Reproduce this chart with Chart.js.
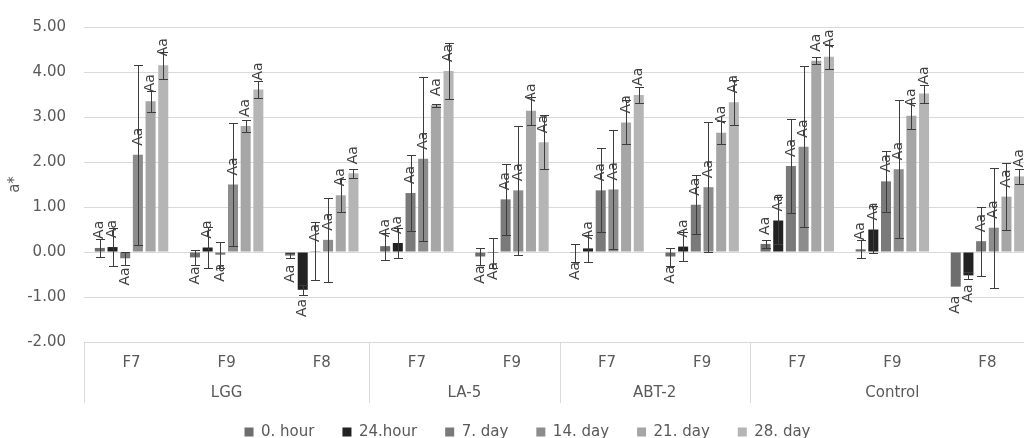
<!DOCTYPE html>
<html><head><meta charset="utf-8">
<script src="https://cdn.jsdelivr.net/npm/chart.js@4.4.1/dist/chart.umd.min.js"></script>
<style>
html,body{margin:0;padding:0;overflow:hidden;background:#fff;width:1024px;height:438px}
#wrap{position:absolute;left:0;top:0;width:1040px;height:438px}
</style>
</head><body><div id="wrap"><canvas id="c" width="1040" height="438"></canvas></div>
<script>
const categories = ['F7','F9','F8','F7','F9','F7','F9','F7','F9','F8'];
const groupNames = ['LGG','LA-5','ABT-2','Control'];
const groupSizes = [3,2,2,3];
const seriesNames = ['0. hour','24.hour','7. day','14. day','21. day','28. day'];
const yAxisTitle = 'a*';
const pointLabel = 'Aa';

const hour0    = [0.09,-0.12,-0.08,0.13,-0.10,-0.02,-0.10,0.18,0.06,-0.77];
const hour0Err = [0.20,0.17,0.05,0.30,0.18,0.20,0.20,0.08,0.20,0.00];
const hour24    = [0.11,0.10,-0.84,0.20,-0.02,0.08,0.12,0.70,0.50,-0.52];
const hour24Err = [0.43,0.45,0.11,0.33,0.33,0.30,0.32,0.52,0.52,0.08];
const day7    = [-0.14,-0.06,0.02,1.31,1.17,1.37,1.05,1.91,1.57,0.24];
const day7Err = [0.15,0.29,0.64,0.84,0.79,0.93,0.66,1.05,0.67,0.77];
const day14    = [2.16,1.50,0.27,2.07,1.37,1.39,1.44,2.34,1.84,0.54];
const day14Err = [2.00,1.37,0.94,1.83,1.43,1.32,1.45,1.79,1.53,1.33];
const day21    = [3.35,2.80,1.26,3.26,3.14,2.88,2.65,4.25,3.03,1.23];
const day21Err = [0.23,0.13,0.37,0.03,0.31,0.49,0.25,0.08,0.29,0.75];
const day28    = [4.15,3.61,1.75,4.02,2.44,3.49,3.33,4.34,3.52,1.68];
const day28Err = [0.30,0.19,0.10,0.62,0.60,0.18,0.50,0.27,0.20,0.17];

const yMin = -2, yMax = 5, yStep = 1;

const seriesValues = [hour0,hour24,day7,day14,day21,day28];
const seriesErrors = [hour0Err,hour24Err,day7Err,day14Err,day21Err,day28Err];
const seriesColors = ['#6e6e6e','#222222','#7a7a7a','#8c8c8c','#a6a6a6','#b5b5b5'];

Chart.defaults.font.family = "'DejaVu Sans', sans-serif";
Chart.defaults.font.size = 15;
Chart.defaults.color = '#595959';

const PLOT_TOP = 20, PLOT_BOTTOM = 342, LEGEND_Y = 432, GROUP_Y = 393, SEP_BOTTOM = 403;

const decorPlugin = {
  id: 'decor',
  afterLayout(chart) {
    const lg = chart.legend;
    if (!lg) return;
    const pad = lg.options.labels.padding;
    const itemH = lg.height - pad - 10;
    const center = lg.top + pad + itemH / 2;
    const dy = LEGEND_Y - center;
    lg.top += dy; lg.bottom += dy;
    lg.left += 10; lg.right += 10;
  },
  afterDatasetsDraw(chart) {
    const ctx = chart.ctx;
    const y = chart.scales.y;
    ctx.save();
    ctx.strokeStyle = '#3c3c3c';
    ctx.lineWidth = 1;
    chart.data.datasets.forEach((ds, di) => {
      const meta = chart.getDatasetMeta(di);
      meta.data.forEach((bar, i) => {
        const e = seriesErrors[di][i];
        if (!e) return;
        const v = ds.data[i];
        const x = Math.round(bar.x) + 0.5;
        const y1 = Math.round(y.getPixelForValue(v + e)) + 0.5;
        const y2 = Math.round(y.getPixelForValue(v - e)) + 0.5;
        ctx.beginPath();
        ctx.moveTo(x, y1); ctx.lineTo(x, y2);
        ctx.moveTo(x - 4.5, y1); ctx.lineTo(x + 4.5, y1);
        ctx.moveTo(x - 4.5, y2); ctx.lineTo(x + 4.5, y2);
        ctx.stroke();
      });
    });
    ctx.fillStyle = '#404040';
    ctx.font = "14px 'DejaVu Sans', sans-serif";
    ctx.textBaseline = 'middle';
    chart.data.datasets.forEach((ds, di) => {
      const meta = chart.getDatasetMeta(di);
      meta.data.forEach((bar, i) => {
        const v = ds.data[i];
        const py = y.getPixelForValue(v);
        ctx.save();
        if (v >= 0) {
          ctx.translate(bar.x, py - 9);
          ctx.rotate(-Math.PI / 2);
          ctx.textAlign = 'left';
        } else {
          ctx.translate(bar.x, py + 9);
          ctx.rotate(-Math.PI / 2);
          ctx.textAlign = 'right';
        }
        ctx.fillText(pointLabel, 0, 0);
        ctx.restore();
      });
    });
    ctx.restore();
  },
  afterDraw(chart) {
    const ctx = chart.ctx;
    const x = chart.scales.x;
    const w = x.getPixelForValue(1) - x.getPixelForValue(0);
    ctx.save();
    ctx.strokeStyle = '#d9d9d9';
    ctx.lineWidth = 1;
    let idx = 0;
    const bounds = [];
    groupSizes.forEach(n => { bounds.push(idx); idx += n; });
    bounds.push(idx);
    ctx.beginPath();
    bounds.forEach(b => {
      const bx = Math.round(x.getPixelForValue(b) - w / 2) + 0.5;
      ctx.moveTo(bx, PLOT_BOTTOM); ctx.lineTo(bx, SEP_BOTTOM);
    });
    ctx.stroke();
    ctx.fillStyle = '#595959';
    ctx.font = "15px 'DejaVu Sans', sans-serif";
    ctx.textAlign = 'center';
    ctx.textBaseline = 'middle';
    groupNames.forEach((g, k) => {
      const a = x.getPixelForValue(bounds[k]) - w / 2;
      const b = x.getPixelForValue(bounds[k + 1]) - w / 2;
      ctx.fillText(g, (a + b) / 2, GROUP_Y);
    });
    ctx.restore();
  }
};

new Chart(document.getElementById('c'), {
  type: 'bar',
  data: {
    labels: categories,
    datasets: seriesNames.map((n, k) => ({
      label: n,
      data: seriesValues[k],
      backgroundColor: seriesColors[k],
      borderWidth: 0,
      categoryPercentage: 0.8,
      barPercentage: 0.79
    }))
  },
  options: {
    responsive: false,
    animation: false,
    devicePixelRatio: 1,
    layout: { padding: { top: PLOT_TOP, right: 5, left: 0, bottom: 0 } },
    plugins: {
      legend: {
        position: 'bottom',
        labels: { boxWidth: 9, boxHeight: 9, padding: 28, color: '#595959', font: { size: 15 } }
      },
      tooltip: { enabled: false }
    },
    scales: {
      x: {
        grid: { display: false },
        border: { display: false },
        ticks: { padding: 4, color: '#595959', font: { size: 15 }, maxRotation: 0, autoSkip: false },
        afterFit(s) {
          const lh = s.chart.legend ? s.chart.legend.height : 0;
          s.height = s.chart.height - lh - PLOT_BOTTOM;
        }
      },
      y: {
        min: yMin, max: yMax,
        grid: { color: '#d9d9d9', drawTicks: false },
        border: { display: false },
        ticks: { stepSize: yStep, padding: 18, color: '#595959', font: { size: 15 },
          callback: v => Number(v).toFixed(2) },
        title: { display: true, text: yAxisTitle, color: '#595959', font: { size: 15 }, padding: { top: 6, bottom: 0 } },
        afterFit(s) { s.width = 84; }
      }
    }
  },
  plugins: [decorPlugin]
});
</script>
</body></html>
